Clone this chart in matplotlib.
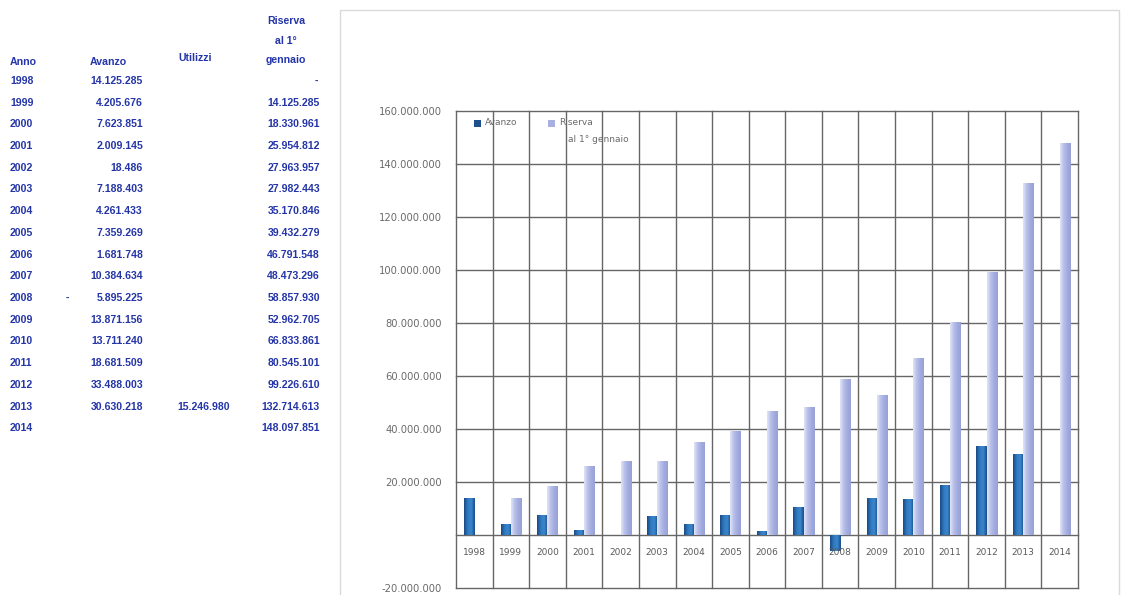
import matplotlib
matplotlib.use("Agg")
import matplotlib.pyplot as plt
import numpy as np
from matplotlib.colors import LinearSegmentedColormap
from matplotlib.patches import Rectangle

# -------------------------------
# Dati: avanzo, utilizzi e riserva al 1° gennaio
# -------------------------------
anni = ["1998", "1999", "2000", "2001", "2002", "2003", "2004", "2005", "2006",
        "2007", "2008", "2009", "2010", "2011", "2012", "2013", "2014"]
avanzo = [14125285, 4205676, 7623851, 2009145, 18486, 7188403, 4261433, 7359269,
          1681748, 10384634, -5895225, 13871156, 13711240, 18681509, 33488003,
          30630218, None]
utilizzi = [None] * 15 + [15246980, None]
riserva = [0, 14125285, 18330961, 25954812, 27963957, 27982443, 35170846, 39432279,
           46791548, 48473296, 58857930, 52962705, 66833861, 80545101, 99226610,
           132714613, 148097851]

W, H = 1123, 595
fig = plt.figure(figsize=(W / 100, H / 100), dpi=100)
fig.patch.set_facecolor("white")


def fx(px):
    return px / W


def fy(py):
    return 1 - py / H


def fmt(v):
    return f"{v:,}".replace(",", ".")


# -------------------------------
# Tabella a sinistra
# -------------------------------
blu = "#2435a8"
tkw = dict(color=blu, fontsize=7.6, fontweight="bold", family="Liberation Sans",
           va="center")

fig.text(fx(10), fy(62), "Anno", ha="left", **tkw)
fig.text(fx(108), fy(62), "Avanzo", ha="center", **tkw)
fig.text(fx(195), fy(58), "Utilizzi", ha="center", **tkw)
fig.text(fx(286), fy(21), "Riserva", ha="center", **tkw)
fig.text(fx(286), fy(41), "al 1°", ha="center", **tkw)
fig.text(fx(286), fy(60), "gennaio", ha="center", **tkw)

for i, anno in enumerate(anni):
    y = fy(81 + i * 21.7)
    fig.text(fx(10), y, anno, ha="left", **tkw)
    a = avanzo[i]
    if a is not None:
        if a < 0:
            fig.text(fx(66), y, "-", ha="left", **tkw)
        fig.text(fx(143), y, fmt(abs(a)), ha="right", **tkw)
    if utilizzi[i] is not None:
        fig.text(fx(230), y, fmt(utilizzi[i]), ha="right", **tkw)
    r = riserva[i]
    fig.text(fx(318 if r == 0 else 320), y, "-" if r == 0 else fmt(r),
             ha="right", **tkw)

# cornice del grafico
fig.add_artist(Rectangle((fx(340), fy(600)), fx(1119 - 340), fy(10) - fy(600),
                         transform=fig.transFigure, fill=False,
                         edgecolor="#dadada", lw=1.0))

# -------------------------------
# Grafico a barre
# -------------------------------
ax = fig.add_axes([fx(456), fy(588), fx(1078 - 456), fy(111) - fy(588)])
x = np.arange(len(anni))
bw = 0.28

av_vals = [v if v is not None else 0 for v in avanzo]
b1 = ax.bar(x - bw / 2, av_vals, bw, color="#245f9e", zorder=3)
b2 = ax.bar(x + bw / 2, riserva, bw, color="#aeb5e3", zorder=3)

cm_av = LinearSegmentedColormap.from_list("av", ["#1a4a82", "#2f78bf", "#3a86cc", "#1b4d88"])
cm_ri = LinearSegmentedColormap.from_list("ri", ["#e1e4f7", "#b9c0ea", "#a3acdf", "#98a1d6"])
grad = np.linspace(0, 1, 64).reshape(1, -1)


def sfuma(bars, cmap):
    for p in bars:
        x0, w = p.get_x(), p.get_width()
        y0, h = p.get_y(), p.get_height()
        if h == 0:
            continue
        lo, hi = min(y0, y0 + h), max(y0, y0 + h)
        im = ax.imshow(grad, cmap=cmap, extent=[x0, x0 + w, lo, hi],
                       aspect="auto", zorder=3.5, interpolation="bilinear")
        im.set_clip_path(p)


sfuma(b1, cm_av)
sfuma(b2, cm_ri)

ax.set_xlim(-0.5, len(anni) - 0.5)
ax.set_ylim(-20_000_000, 160_000_000)

# griglia (anche i bordi, senza ritaglio)
grid_c = "#666666"
for k in range(len(anni) + 1):
    ax.axvline(k - 0.5, color=grid_c, lw=1.0, zorder=2, clip_on=False)
yt = np.arange(-20_000_000, 160_000_001, 20_000_000)
for t in yt:
    ax.axhline(t, color=grid_c, lw=1.0, zorder=2, clip_on=False)
for s in ax.spines.values():
    s.set_visible(False)

ax.set_yticks(yt)
ax.set_yticklabels(["" if t == 0 else fmt(int(t)) for t in yt])
ax.tick_params(axis="y", length=0, pad=10, labelsize=7.2, labelcolor="#6a6a6a")
ax.set_xticks([])

for i, anno in enumerate(anni):
    ax.text(i, -6_500_000, anno, ha="center", va="center", fontsize=6.5,
            color="#5a5a5a", zorder=4)

# legenda
lkw = dict(fontsize=6.5, color="#6a6a6a", va="center", ha="left")
fig.add_artist(Rectangle((fx(474), fy(127)), fx(7), fy(120) - fy(127),
                         transform=fig.transFigure, facecolor="#1f4f8c",
                         edgecolor="none", zorder=5))
fig.text(fx(485), fy(123), "Avanzo", **lkw)
fig.add_artist(Rectangle((fx(548), fy(127)), fx(7), fy(120) - fy(127),
                         transform=fig.transFigure, facecolor="#a9b0e0",
                         edgecolor="none", zorder=5))
fig.text(fx(559), fy(123), "Riserva", **lkw)
fig.text(fx(568), fy(139), "al 1° gennaio", **lkw)

fig.savefig("out.png", dpi=100)
